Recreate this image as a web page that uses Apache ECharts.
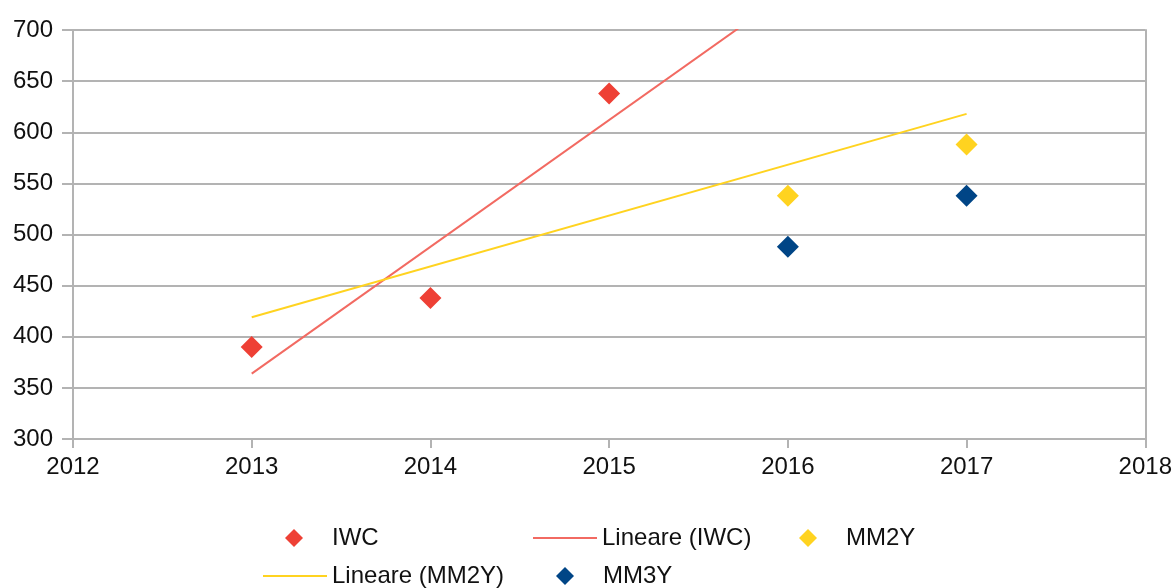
<!DOCTYPE html>
<html>
<head>
<meta charset="utf-8">
<script src="https://cdn.jsdelivr.net/npm/echarts@6/dist/echarts.min.js"></script>
<style>
  html, body { margin: 0; padding: 0; background: #fff; }
  #chart { width: 1175px; height: 588px; }
</style>
</head>
<body>
<div id="chart"></div>
<script>
// valori
var iwc = [[2013, 390], [2014, 438], [2015, 638]];
var mm2y = [[2016, 538], [2017, 588]];
var mm3y = [[2016, 488], [2017, 538]];
// linee di tendenza (estremi)
var trendIwc = [[2013, 364], [2017, 860]];
var trendMm2y = [[2013, 419], [2017, 618]];

var red = '#ee4035';
var redLine = '#f26a62';
var yellow = '#ffd320';
var blue = '#004586';
var gridColor = '#b3b3b3';
var font = 'Liberation Sans';

function txt(padLeft) {
  return { fontFamily: font, fontSize: 24, color: '#111', lineHeight: 28, padding: [0, 0, 0, padLeft] };
}

// voce con rombo: icona piccola, testo spostato come nel riferimento
function markerItem(name, cx, top) {
  return {
    data: [{ name: name, icon: 'diamond' }],
    left: cx - 9,
    top: top,
    padding: 0,
    itemWidth: 18,
    itemHeight: 18,
    textStyle: txt(24),
    selectedMode: false
  };
}

// voce con linea
function lineItem(name, left, top) {
  return {
    data: [{ name: name, icon: 'path://M0,0H64V2H0Z' }],
    left: left,
    top: top,
    padding: 0,
    itemWidth: 64,
    itemHeight: 2,
    textStyle: txt(0),
    selectedMode: false
  };
}

var chart = echarts.init(document.getElementById('chart'));
chart.setOption({
  animation: false,
  grid: { left: 73, right: 28, top: 30, bottom: 149 },
  legend: [
    markerItem('IWC', 294, 524),
    lineItem('Lineare (IWC)', 533, 524),
    markerItem('MM2Y', 808, 524),
    lineItem('Lineare (MM2Y)', 263, 562),
    markerItem('MM3Y', 565, 562)
  ],
  xAxis: {
    type: 'value',
    min: 2012,
    max: 2018,
    interval: 1,
    axisLine: { show: true, lineStyle: { color: gridColor, width: 2 } },
    axisTick: { show: true, length: 9, lineStyle: { color: gridColor, width: 2 } },
    axisLabel: { margin: 16, fontFamily: font, fontSize: 24, color: '#111',
      formatter: function (v) { return String(v); } },
    splitLine: { show: false }
  },
  yAxis: [{
    type: 'value',
    min: 300,
    max: 700,
    interval: 50,
    axisLine: { show: true, lineStyle: { color: gridColor, width: 2 } },
    axisTick: { show: true, length: 11, lineStyle: { color: gridColor, width: 2 } },
    axisLabel: { margin: 20, fontFamily: font, fontSize: 24, color: '#111' },
    splitLine: { show: true, lineStyle: { color: gridColor, width: 2 } }
  }, {
    type: 'value',
    position: 'right',
    min: 300,
    max: 700,
    interval: 50,
    axisLine: { show: true, lineStyle: { color: gridColor, width: 2 } },
    axisTick: { show: false },
    axisLabel: { show: false },
    splitLine: { show: false }
  }],
  series: [
    {
      name: 'Lineare (IWC)', type: 'line', data: trendIwc, symbol: 'none', clip: true,
      lineStyle: { color: redLine, width: 2 }, itemStyle: { color: redLine }, z: 2
    },
    {
      name: 'Lineare (MM2Y)', type: 'line', data: trendMm2y, symbol: 'none', clip: true,
      lineStyle: { color: yellow, width: 2 }, itemStyle: { color: yellow }, z: 2
    },
    {
      name: 'IWC', type: 'scatter', data: iwc, symbol: 'diamond', symbolSize: 22,
      itemStyle: { color: red, opacity: 1 }, z: 3
    },
    {
      name: 'MM2Y', type: 'scatter', data: mm2y, symbol: 'diamond', symbolSize: 22,
      itemStyle: { color: yellow, opacity: 1 }, z: 3
    },
    {
      name: 'MM3Y', type: 'scatter', data: mm3y, symbol: 'diamond', symbolSize: 22,
      itemStyle: { color: blue, opacity: 1 }, z: 3
    }
  ]
});
</script>
</body>
</html>
